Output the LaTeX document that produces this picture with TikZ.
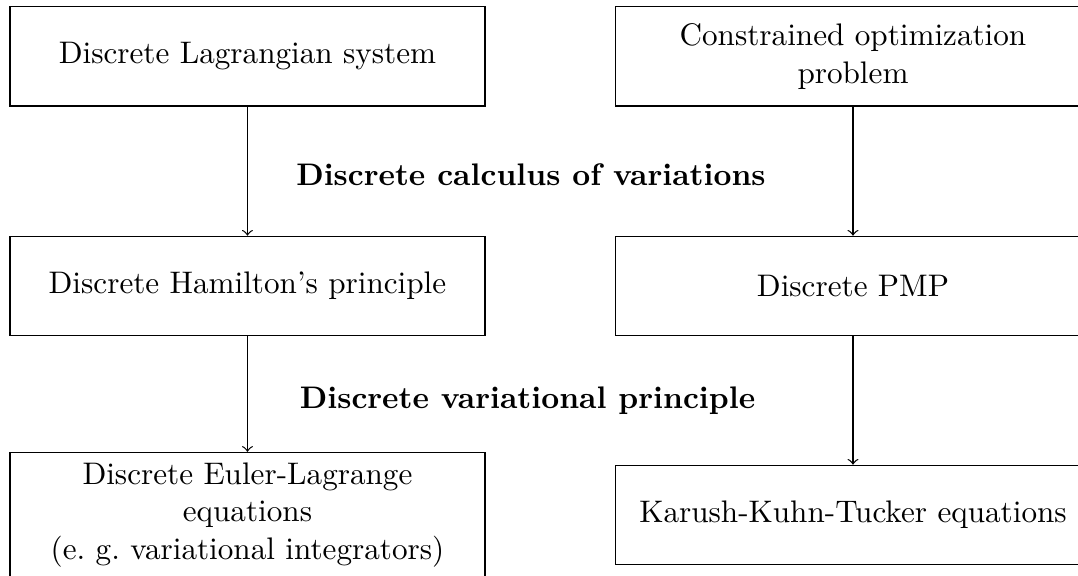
\documentclass[tikz,border=0pt]{standalone}
\usepackage{amsmath}
\newcommand\nohyph{\hyphenpenalty=10000\relax\exhyphenpenalty=10000\relax}
\tikzset{
  stage/.style={draw, text width=5.12cm, align=center, minimum height=1.119cm,
    font=\nohyph},
  stagelabel/.style={font=\bfseries},
}
\begin{document}
\begin{tikzpicture}
  \useasboundingbox (0,0) rectangle (12.154,-6.494);
  % left column
  \node[stage] (lagsys) at (2.790,-0.637) {Discrete Lagrangian system};
  \node[stage] (hamprin) at (2.790,-3.224) {Discrete Hamilton's principle};
  \node[stage] (eleqs) at (2.790,-5.806) {Discrete Euler-Lagrange equations\\(e.\ g.\ variational integrators)};
  % right column
  \node[stage] (optprob) at (9.617,-0.637) {Constrained optimization\\problem};
  \node[stage] (pmp) at (9.617,-3.224) {Discrete PMP};
  \node[stage] (kkt) at (9.617,-5.806) {Karush-Kuhn-Tucker equations};
  \draw[->] (lagsys) -- (hamprin);
  \draw[->] (hamprin) -- (eleqs);
  \draw[->] (optprob) -- (pmp);
  \draw[->] (pmp) -- (kkt);
  \node[stagelabel] (calcvar) at (5.986,-1.973) {Discrete calculus of variations};
  \node[stagelabel] (varprin) at (5.948,-4.521) {Discrete variational principle};
\end{tikzpicture}
\end{document}
